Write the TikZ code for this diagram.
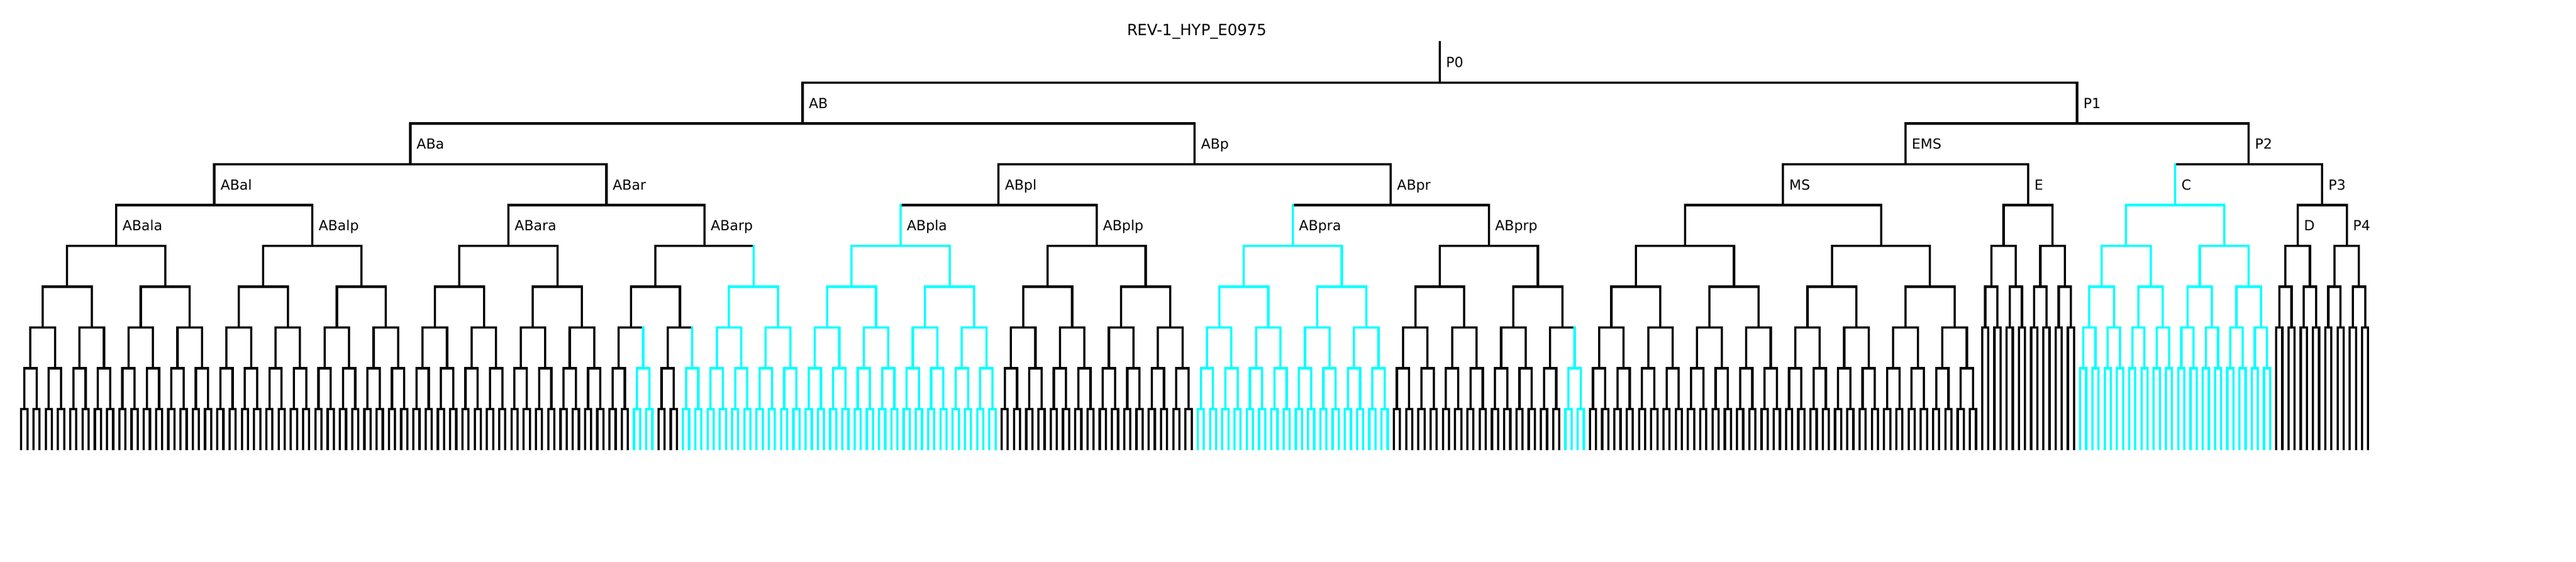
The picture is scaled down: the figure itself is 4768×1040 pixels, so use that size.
\documentclass[tikz,border=0pt]{standalone}
\usepackage{fontspec}
\setmainfont{DejaVu Sans}
\usetikzlibrary{calc}
\definecolor{cy}{RGB}{0,255,255}
\tikzset{
  br/.style={line width=1.2pt, line cap=rect},
  lab/.style={anchor=base west, inner sep=0pt, text=black, font=\fontsize{7.3pt}{8.8pt}\selectfont},
  ttl/.style={anchor=base, inner sep=0pt, text=black, font=\fontsize{8.1pt}{9.7pt}\selectfont}
}
% geometry (picture units = image pixels)
\newcommand\tXo{39.3}
\newcommand\tSp{11.342}
\newcommand\tYo{77.5}
\newcommand\tSt{75.5}
\newcommand\tBot{830.4}
\newcommand\tJoin[6]{%
  \draw[br,#4] (#2 |- #1) -- (#3 |- #1);
  \draw[br,#5] (#2) -- (#2 |- #1);
  \draw[br,#6] (#3) -- (#3 |- #1);}
\newcommand\tSub[5]{% name, first leaf, number of leaves, depth, colour
  \begingroup
  \pgfmathtruncatemacro\tA{#2}%
  \pgfmathtruncatemacro\tN{#3}%
  \pgfmathtruncatemacro\tDp{#4}%
  \ifnum\tN=1\relax
    \pgfmathsetmacro\tX{\tXo+\tSp*\tA}%
    \coordinate (#1) at (\tX,\tBot);
  \else
    \pgfmathsetmacro\tX{\tXo+\tSp*(\tA+(\tN-1)/2)}%
    \pgfmathsetmacro\tY{\tYo+\tSt*(\tDp+1)}%
    \coordinate (#1) at (\tX,\tY);
    \pgfmathtruncatemacro\tH{\tN/2}%
    \pgfmathtruncatemacro\tB{\tA+\tH}%
    \pgfmathtruncatemacro\tD{\tDp+1}%
    \tSub{#1a}{\tA}{\tH}{\tD}{#5}%
    \tSub{#1p}{\tB}{\tH}{\tD}{#5}%
    \tJoin{#1}{#1a}{#1p}{#5}{#5}{#5}%
  \fi
  \endgroup}
\newcommand\tMid[3]{\coordinate (#1) at ($(#2)!0.5!(#3)+(0,-\tSt)$);}
\newcommand\tLab[1]{\path (#1) ++(11,-28.35) node[lab] (L#1) {#1};}
\begin{document}
\begin{tikzpicture}[x=0.01cm, y=-0.01cm]
\useasboundingbox (0,0) rectangle (4768,1040);
% uniform subtrees
\tSub{ABala}{0}{32}{4}{black}
\tSub{ABalp}{32}{32}{4}{black}
\tSub{ABara}{64}{32}{4}{black}
\tSub{ABarpaaa}{96}{4}{7}{black}
\tSub{ABarpaap}{100}{4}{7}{cy}
\tSub{ABarpapa}{104}{4}{7}{black}
\tSub{ABarpapp}{108}{4}{7}{cy}
\tSub{ABarpp}{112}{16}{5}{cy}
\tSub{ABpla}{128}{32}{4}{cy}
\tSub{ABplp}{160}{32}{4}{black}
\tSub{ABpra}{192}{32}{4}{cy}
\tSub{ABprpa}{224}{16}{5}{black}
\tSub{ABprppa}{240}{8}{6}{black}
\tSub{ABprpppa}{248}{4}{7}{black}
\tSub{ABprpppp}{252}{4}{7}{cy}
\tSub{MS}{256}{64}{3}{black}
\tSub{E}{320}{16}{3}{black}
\tSub{C}{336}{32}{3}{cy}
\tSub{D}{368}{8}{4}{black}
\tSub{P4}{376}{8}{4}{black}
% mixed nodes
\tMid{ABarpaa}{ABarpaaa}{ABarpaap}\tJoin{ABarpaa}{ABarpaaa}{ABarpaap}{black}{black}{cy}
\tMid{ABarpap}{ABarpapa}{ABarpapp}\tJoin{ABarpap}{ABarpapa}{ABarpapp}{black}{black}{cy}
\tMid{ABarpa}{ABarpaa}{ABarpap}\tJoin{ABarpa}{ABarpaa}{ABarpap}{black}{black}{black}
\tMid{ABarp}{ABarpa}{ABarpp}\tJoin{ABarp}{ABarpa}{ABarpp}{black}{black}{cy}
\tMid{ABar}{ABara}{ABarp}\tJoin{ABar}{ABara}{ABarp}{black}{black}{black}
\tMid{ABal}{ABala}{ABalp}\tJoin{ABal}{ABala}{ABalp}{black}{black}{black}
\tMid{ABa}{ABal}{ABar}\tJoin{ABa}{ABal}{ABar}{black}{black}{black}
\tMid{ABprppp}{ABprpppa}{ABprpppp}\tJoin{ABprppp}{ABprpppa}{ABprpppp}{black}{black}{cy}
\tMid{ABprpp}{ABprppa}{ABprppp}\tJoin{ABprpp}{ABprppa}{ABprppp}{black}{black}{black}
\tMid{ABprp}{ABprpa}{ABprpp}\tJoin{ABprp}{ABprpa}{ABprpp}{black}{black}{black}
\tMid{ABpl}{ABpla}{ABplp}\tJoin{ABpl}{ABpla}{ABplp}{black}{cy}{black}
\tMid{ABpr}{ABpra}{ABprp}\tJoin{ABpr}{ABpra}{ABprp}{black}{cy}{black}
\tMid{ABp}{ABpl}{ABpr}\tJoin{ABp}{ABpl}{ABpr}{black}{black}{black}
\tMid{AB}{ABa}{ABp}\tJoin{AB}{ABa}{ABp}{black}{black}{black}
\tMid{EMS}{MS}{E}\tJoin{EMS}{MS}{E}{black}{black}{black}
\tMid{P3}{D}{P4}\tJoin{P3}{D}{P4}{black}{black}{black}
\tMid{P2}{C}{P3}\tJoin{P2}{C}{P3}{black}{cy}{black}
\tMid{P1}{EMS}{P2}\tJoin{P1}{EMS}{P2}{black}{black}{black}
\tMid{P0}{AB}{P1}\tJoin{P0}{AB}{P1}{black}{black}{black}
\coordinate (P0top) at ($(P0)+(0,-75)$);
\draw[br] (P0) -- (P0top);
% labels
\tLab{P0}
\tLab{AB}\tLab{P1}
\tLab{ABa}\tLab{ABp}\tLab{EMS}\tLab{P2}
\tLab{ABal}\tLab{ABar}\tLab{ABpl}\tLab{ABpr}\tLab{MS}\tLab{E}\tLab{C}\tLab{P3}
\tLab{ABala}\tLab{ABalp}\tLab{ABara}\tLab{ABarp}\tLab{ABpla}\tLab{ABplp}\tLab{ABpra}\tLab{ABprp}\tLab{D}\tLab{P4}
\node[ttl] (title) at (2215.5,66) {REV-1\_HYP\_E0975};
\end{tikzpicture}
\end{document}
